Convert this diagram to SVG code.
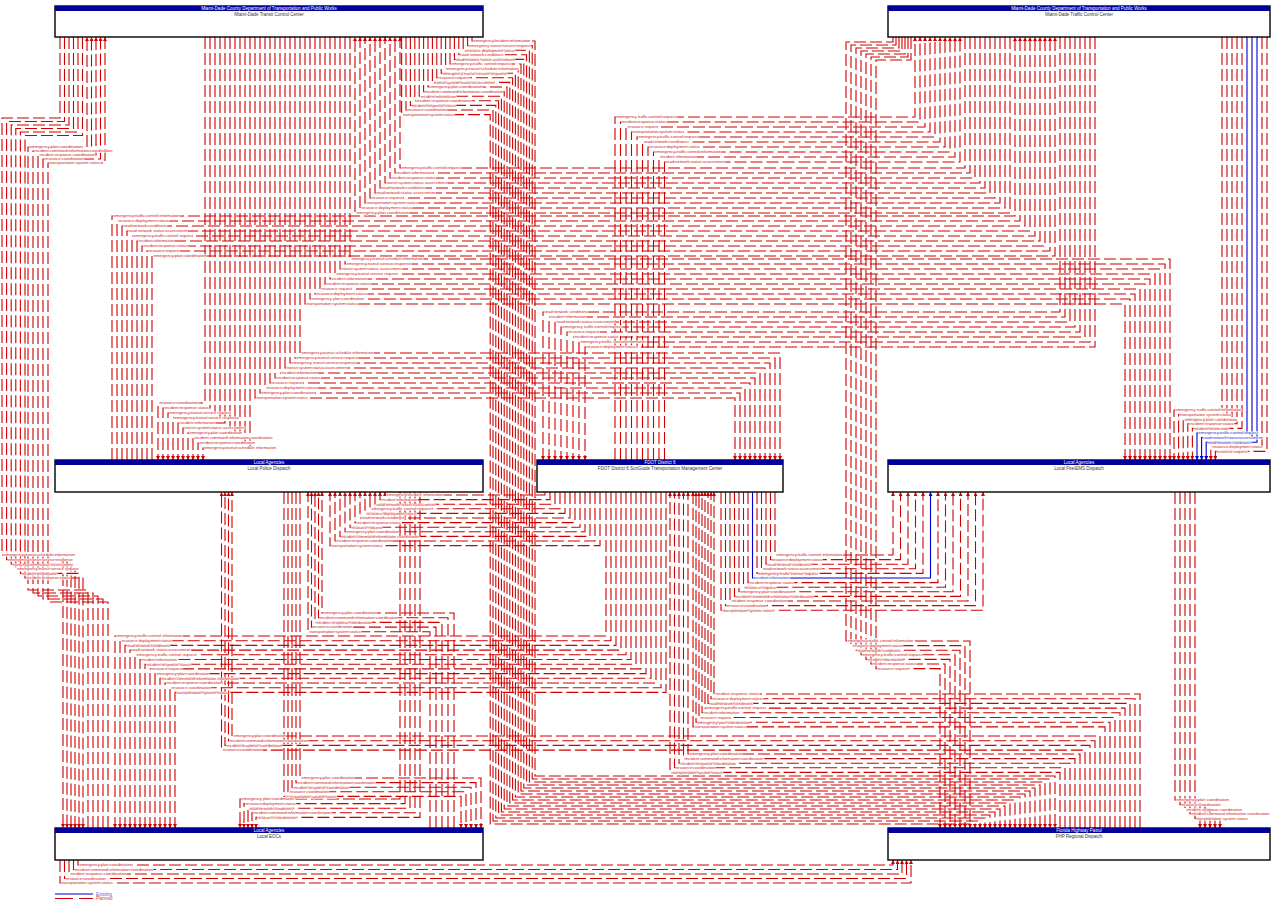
<svg xmlns="http://www.w3.org/2000/svg" width="1277" height="906" viewBox="0 0 1277 906">
<style>
.f{fill:none;stroke:#d00000;stroke-width:1.1;stroke-dasharray:12 4;marker-end:url(#ar)}
.x{fill:none;stroke:#0000d0;stroke-width:1.1;marker-end:url(#ab)}
.t{font-family:"Liberation Sans",Arial,sans-serif;font-size:4.1px;fill:#cc2020;stroke:#fff;stroke-width:1.2px;paint-order:stroke;stroke-linejoin:round}
.tb{fill:#3030cc}
.nb{fill:#fff;stroke:#000;stroke-width:1.4}
.nh{fill:#000099}
.ht{font-family:"Liberation Sans",Arial,sans-serif;font-size:4.5px;fill:#fff;text-anchor:middle}
.st{font-family:"Liberation Sans",Arial,sans-serif;font-size:4.5px;fill:#333;text-anchor:middle}
.lg{font-family:"Liberation Sans",Arial,sans-serif;font-size:4.5px}
</style>
<defs>
<marker id="ar" markerWidth="4" markerHeight="4" refX="4" refY="2" orient="auto" markerUnits="userSpaceOnUse"><path d="M0,0L4,2L0,4z" fill="#d00000"/></marker>
<marker id="ab" markerWidth="4" markerHeight="4" refX="4" refY="2" orient="auto" markerUnits="userSpaceOnUse"><path d="M0,0L4,2L0,4z" fill="#0000d0"/></marker>
</defs>
<rect width="1277" height="906" fill="#fff"/>
<g id="connectors">
<path class="f" d="M472,37V41H535V776H1055V828"/>
<path class="f" d="M467.6,37V45.6H532.2V779H1050V828"/>
<path class="f" d="M463.2,37V50.2H529.4V782H1045V828"/>
<path class="f" d="M458.8,37V54.8H526.6V785H1040V828"/>
<path class="f" d="M454.4,37V59.4H523.8V788H1035V828"/>
<path class="f" d="M450,37V64H521V791H1030V828"/>
<path class="f" d="M445.6,37V68.6H518.2V794H1025V828"/>
<path class="f" d="M441.2,37V73.2H515.4V797H1020V828"/>
<path class="f" d="M436.8,37V77.8H512.6V800H1015V828"/>
<path class="f" d="M432.4,37V82.4H509.8V803H1010V828"/>
<path class="f" d="M428,37V87H507V806H1005V828"/>
<path class="f" d="M423.6,37V91.6H504.2V809H1000V828"/>
<path class="f" d="M419.2,37V96.2H501.4V812H995V828"/>
<path class="f" d="M414.8,37V100.8H498.6V815H990V828"/>
<path class="f" d="M410.4,37V105.4H495.8V818H985V828"/>
<path class="f" d="M406,37V110H493V821H980V828"/>
<path class="f" d="M401.6,37V114.6H490.2V824H975V828"/>
<path class="f" d="M78,860V865H893V860"/>
<path class="f" d="M73.5,860V869.5H897.5V860"/>
<path class="f" d="M69,860V874H902V860"/>
<path class="f" d="M64.5,860V878.5H906.5V860"/>
<path class="f" d="M60,860V883H911V860"/>
<path class="f" d="M1222,37V410H1174V460"/>
<path class="f" d="M1227,37V414.6H1178.6V460"/>
<path class="f" d="M1232,37V419.2H1183.2V460"/>
<path class="f" d="M1237,37V423.8H1187.8V460"/>
<path class="f" d="M1242,37V428.4H1192.4V460"/>
<path class="x" d="M1247,37V433H1197V460"/>
<path class="x" d="M1252,37V437.6H1201.6V460"/>
<path class="x" d="M1257,37V442.2H1206.2V460"/>
<path class="f" d="M1262,37V446.8H1210.8V460"/>
<path class="f" d="M1267,37V451.4H1215.4V460"/>
<path class="f" d="M615,460V117H915V37"/>
<path class="f" d="M620.5,460V122H920V37"/>
<path class="f" d="M626,460V127H925V37"/>
<path class="f" d="M631.5,460V132H930V37"/>
<path class="f" d="M637,460V137H935V37"/>
<path class="f" d="M642.5,460V142H940V37"/>
<path class="f" d="M648,460V147H945V37"/>
<path class="f" d="M653.5,460V152H950V37"/>
<path class="f" d="M659,460V157H955V37"/>
<path class="f" d="M664.5,460V162H960V37"/>
<path class="f" d="M965,37V168H400V37"/>
<path class="f" d="M970,37V173H395V37"/>
<path class="f" d="M975,37V178H390V37"/>
<path class="f" d="M980,37V183H385V37"/>
<path class="f" d="M985,37V188H380V37"/>
<path class="f" d="M990,37V193H375V37"/>
<path class="f" d="M995,37V198H370V37"/>
<path class="f" d="M1000,37V203H365V37"/>
<path class="f" d="M1005,37V208H360V37"/>
<path class="f" d="M1010,37V213H355V37"/>
<path class="f" d="M112,460V216H1015V37"/>
<path class="f" d="M117,460V221H1020V37"/>
<path class="f" d="M122,460V226H1025V37"/>
<path class="f" d="M127,460V231H1030V37"/>
<path class="f" d="M132,460V236H1035V37"/>
<path class="f" d="M137,460V241H1040V37"/>
<path class="f" d="M142,460V246H1045V37"/>
<path class="f" d="M147,460V251H1050V37"/>
<path class="f" d="M152,460V256H1055V37"/>
<path class="f" d="M350,37V259H1170V460"/>
<path class="f" d="M345,37V264H1165V460"/>
<path class="f" d="M340,37V269H1160V460"/>
<path class="f" d="M335,37V274H1155V460"/>
<path class="f" d="M330,37V279H1150V460"/>
<path class="f" d="M325,37V284H1145V460"/>
<path class="f" d="M320,37V289H1140V460"/>
<path class="f" d="M315,37V294H1135V460"/>
<path class="f" d="M310,37V299H1130V460"/>
<path class="f" d="M305,37V304H1125V460"/>
<path class="f" d="M1060,37V312H543V460"/>
<path class="f" d="M1065,37V317H549V460"/>
<path class="f" d="M1070,37V322H555V460"/>
<path class="f" d="M1075,37V327H561V460"/>
<path class="f" d="M1080,37V332H567V460"/>
<path class="f" d="M1085,37V337H573V460"/>
<path class="f" d="M1090,37V342H579V460"/>
<path class="f" d="M1095,37V347H585V460"/>
<path class="f" d="M300,37V353H780V460"/>
<path class="f" d="M295,37V358H775V460"/>
<path class="f" d="M290,37V363H770V460"/>
<path class="f" d="M285,37V368H765V460"/>
<path class="f" d="M280,37V373H760V460"/>
<path class="f" d="M275,37V378H755V460"/>
<path class="f" d="M270,37V383H750V460"/>
<path class="f" d="M265,37V388H745V460"/>
<path class="f" d="M260,37V393H740V460"/>
<path class="f" d="M255,37V398H735V460"/>
<path class="f" d="M205,37V403H158V460"/>
<path class="f" d="M210,37V408H163V460"/>
<path class="f" d="M215,37V413H168V460"/>
<path class="f" d="M220,37V418H173V460"/>
<path class="f" d="M225,37V423H178V460"/>
<path class="f" d="M230,37V428H183V460"/>
<path class="f" d="M235,37V433H188V460"/>
<path class="f" d="M240,37V438H193V460"/>
<path class="f" d="M245,37V443H198V460"/>
<path class="f" d="M250,37V448H203V460"/>
<path class="f" d="M545,492V495H385V492"/>
<path class="f" d="M550,492V499.6H380V492"/>
<path class="f" d="M555,492V504.2H375V492"/>
<path class="f" d="M560,492V508.8H370V492"/>
<path class="f" d="M565,492V513.4H365V492"/>
<path class="f" d="M570,492V518H360V492"/>
<path class="f" d="M575,492V522.6H355V492"/>
<path class="f" d="M580,492V527.2H350V492"/>
<path class="f" d="M585,492V531.8H345V492"/>
<path class="f" d="M590,492V536.4H340V492"/>
<path class="f" d="M595,492V541H335V492"/>
<path class="f" d="M600,492V545.6H330V492"/>
<path class="f" d="M60,37V118H2V555H63V828"/>
<path class="f" d="M64.5,37V121.5H6.6V559.6H67V828"/>
<path class="f" d="M69,37V125H11.2V564.2H71V828"/>
<path class="f" d="M73.5,37V128.5H15.8V568.8H75V828"/>
<path class="f" d="M78,37V132H20.4V573.4H79V828"/>
<path class="f" d="M82.5,37V135.5H25V578H83V828"/>
<path class="f" d="M88,828V590H28V147H87V37"/>
<path class="f" d="M93,828V593H33V151H91.5V37"/>
<path class="f" d="M98,828V596H38V155H96V37"/>
<path class="f" d="M103,828V599H43V159H100.5V37"/>
<path class="f" d="M108,828V602H48V163H105V37"/>
<path class="f" d="M775,492V555H893V492"/>
<path class="f" d="M770.5,492V559.6H900.5V492"/>
<path class="f" d="M766,492V564.2H908V492"/>
<path class="f" d="M761.5,492V568.8H915.5V492"/>
<path class="f" d="M757,492V573.4H923V492"/>
<path class="x" d="M752.5,492V578H930.5V492"/>
<path class="f" d="M748,492V582.6H938V492"/>
<path class="f" d="M743.5,492V587.2H945.5V492"/>
<path class="f" d="M739,492V591.8H953V492"/>
<path class="f" d="M734.5,492V596.4H960.5V492"/>
<path class="f" d="M730,492V601H968V492"/>
<path class="f" d="M725.5,492V605.6H975.5V492"/>
<path class="f" d="M721,492V610.2H983V492"/>
<path class="f" d="M893,37V42H846V641H970V828"/>
<path class="f" d="M896,37V45H851V645.6H965V828"/>
<path class="f" d="M899,37V48H856V650.2H960V828"/>
<path class="f" d="M902,37V51H861V654.8H955V828"/>
<path class="f" d="M905,37V54H866V659.4H950V828"/>
<path class="f" d="M908,37V57H871V664H945V828"/>
<path class="f" d="M911,37V60H876V668.6H940V828"/>
<path class="f" d="M454,828V613H322V492"/>
<path class="f" d="M448,828V617.7H318.5V492"/>
<path class="f" d="M442,828V622.4H315V492"/>
<path class="f" d="M436,828V627.1H311.5V492"/>
<path class="f" d="M430,828V631.8H308V492"/>
<path class="f" d="M606,492V636H115V828"/>
<path class="f" d="M611,492V640.7H120V828"/>
<path class="f" d="M616,492V645.4H125V828"/>
<path class="f" d="M621,492V650.1H130V828"/>
<path class="f" d="M626,492V654.8H135V828"/>
<path class="f" d="M631,492V659.5H140V828"/>
<path class="f" d="M636,492V664.2H145V828"/>
<path class="f" d="M641,492V668.9H150V828"/>
<path class="f" d="M646,492V673.6H155V828"/>
<path class="f" d="M651,492V678.3H160V828"/>
<path class="f" d="M656,492V683H165V828"/>
<path class="f" d="M661,492V687.7H170V828"/>
<path class="f" d="M666,492V692.4H175V828"/>
<path class="f" d="M1140,828V694H714V492"/>
<path class="f" d="M1135,828V698.7H711V492"/>
<path class="f" d="M1130,828V703.4H708V492"/>
<path class="f" d="M1125,828V708.1H705V492"/>
<path class="f" d="M1120,828V712.8H702V492"/>
<path class="f" d="M1115,828V717.5H699V492"/>
<path class="f" d="M1110,828V722.2H696V492"/>
<path class="f" d="M1105,828V726.9H693V492"/>
<path class="f" d="M1100,828V736H232V492"/>
<path class="f" d="M1095,828V740.7H228.5V492"/>
<path class="f" d="M1090,828V745.4H225V492"/>
<path class="f" d="M1085,828V750.1H221.5V492"/>
<path class="f" d="M1080,828V754H688V492"/>
<path class="f" d="M1075,828V758.6H683.5V492"/>
<path class="f" d="M1070,828V763.2H679V492"/>
<path class="f" d="M1065,828V767.8H674.5V492"/>
<path class="f" d="M1060,828V772.4H670V492"/>
<path class="f" d="M300,492V778H481V828"/>
<path class="f" d="M296,492V782.6H476V828"/>
<path class="f" d="M292,492V787.2H471V828"/>
<path class="f" d="M288,492V791.8H466V828"/>
<path class="f" d="M284,492V796.4H461V828"/>
<path class="f" d="M400,492V799H240V828"/>
<path class="f" d="M405,492V803.6H244V828"/>
<path class="f" d="M410,492V808.2H248V828"/>
<path class="f" d="M415,492V812.8H252V828"/>
<path class="f" d="M420,492V817.4H256V828"/>
<path class="f" d="M1175,492V800H1200V828"/>
<path class="f" d="M1180,492V804.6H1205V828"/>
<path class="f" d="M1185,492V809.2H1210V828"/>
<path class="f" d="M1190,492V813.8H1215V828"/>
<path class="f" d="M1195,492V818.4H1220V828"/>
</g>
<g id="labels">
<text class="t" x="473.5" y="42.3">emergency/incident information</text>
<text class="t" x="469.1" y="46.9">emergency transit service request</text>
<text class="t" x="464.7" y="51.5">resource deployment status</text>
<text class="t" x="460.3" y="56.1">road network conditions</text>
<text class="t" x="455.9" y="60.7">road network status assessment</text>
<text class="t" x="451.5" y="65.3">emergency traffic control request</text>
<text class="t" x="447.1" y="69.9">emergency transit schedule information</text>
<text class="t" x="442.7" y="74.5">emergency transit service response</text>
<text class="t" x="438.3" y="79.1">resource request</text>
<text class="t" x="433.9" y="83.7">transit system status assessment</text>
<text class="t" x="429.5" y="88.3">emergency plan coordination</text>
<text class="t" x="425.1" y="92.9">incident command information coordination</text>
<text class="t" x="420.7" y="97.5">incident information</text>
<text class="t" x="416.3" y="102.1">incident response coordination</text>
<text class="t" x="411.9" y="106.7">incident response status</text>
<text class="t" x="407.5" y="111.3">resource coordination</text>
<text class="t" x="403.1" y="115.9">transportation system status</text>
<text class="t" x="79.5" y="866.3">emergency plan coordination</text>
<text class="t" x="75" y="870.8">incident command information coordination</text>
<text class="t" x="70.5" y="875.3">incident response coordination</text>
<text class="t" x="66" y="879.8">resource coordination</text>
<text class="t" x="61.5" y="884.3">transportation system status</text>
<text class="t" x="1175.5" y="411.3">emergency traffic control information</text>
<text class="t" x="1180.1" y="415.9">transportation system status</text>
<text class="t" x="1184.7" y="420.5">emergency plan coordination</text>
<text class="t" x="1189.3" y="425.1">incident response status</text>
<text class="t" x="1193.9" y="429.7">incident information</text>
<text class="t tb" x="1198.5" y="434.3">emergency traffic control request</text>
<text class="t tb" x="1203.1" y="438.9">road network status assessment</text>
<text class="t tb" x="1207.7" y="443.5">road network conditions</text>
<text class="t" x="1212.3" y="448.1">resource deployment status</text>
<text class="t" x="1216.9" y="452.7">resource request</text>
<text class="t" x="616.5" y="118.3">emergency traffic control request</text>
<text class="t" x="622" y="123.3">incident response status</text>
<text class="t" x="627.5" y="128.3">resource request</text>
<text class="t" x="633" y="133.3">transportation system status</text>
<text class="t" x="638.5" y="138.3">emergency traffic control request</text>
<text class="t" x="644" y="143.3">road network conditions</text>
<text class="t" x="649.5" y="148.3">resource deployment status</text>
<text class="t" x="655" y="153.3">emergency traffic control information</text>
<text class="t" x="660.5" y="158.3">incident information</text>
<text class="t" x="666" y="163.3">road network status assessment</text>
<text class="t" x="401.5" y="169.3">emergency traffic control request</text>
<text class="t" x="396.5" y="174.3">incident information</text>
<text class="t" x="391.5" y="179.3">incident response status</text>
<text class="t" x="386.5" y="184.3">transit system status assessment</text>
<text class="t" x="381.5" y="189.3">road network conditions</text>
<text class="t" x="376.5" y="194.3">road network status assessment</text>
<text class="t" x="371.5" y="199.3">resource request</text>
<text class="t" x="366.5" y="204.3">transportation system status</text>
<text class="t" x="361.5" y="209.3">resource deployment status</text>
<text class="t" x="356.5" y="214.3">emergency plan coordination</text>
<text class="t" x="113.5" y="217.3">emergency traffic control information</text>
<text class="t" x="118.5" y="222.3">resource deployment status</text>
<text class="t" x="123.5" y="227.3">road network conditions</text>
<text class="t" x="128.5" y="232.3">road network status assessment</text>
<text class="t" x="133.5" y="237.3">emergency traffic control request</text>
<text class="t" x="138.5" y="242.3">incident information</text>
<text class="t" x="143.5" y="247.3">incident response status</text>
<text class="t" x="148.5" y="252.3">resource request</text>
<text class="t" x="153.5" y="257.3">emergency plan coordination</text>
<text class="t" x="351.5" y="260.3">emergency transit schedule information</text>
<text class="t" x="346.5" y="265.3">emergency transit service response</text>
<text class="t" x="341.5" y="270.3">transit system status assessment</text>
<text class="t" x="336.5" y="275.3">emergency transit service request</text>
<text class="t" x="331.5" y="280.3">incident information</text>
<text class="t" x="326.5" y="285.3">incident response status</text>
<text class="t" x="321.5" y="290.3">resource request</text>
<text class="t" x="316.5" y="295.3">resource deployment status</text>
<text class="t" x="311.5" y="300.3">emergency plan coordination</text>
<text class="t" x="306.5" y="305.3">transportation system status</text>
<text class="t" x="544.5" y="313.3">road network conditions</text>
<text class="t" x="550.5" y="318.3">incident information</text>
<text class="t" x="556.5" y="323.3">road network status assessment</text>
<text class="t" x="562.5" y="328.3">emergency traffic control request</text>
<text class="t" x="568.5" y="333.3">resource request</text>
<text class="t" x="574.5" y="338.3">incident response status</text>
<text class="t" x="580.5" y="343.3">emergency traffic control information</text>
<text class="t" x="586.5" y="348.3">resource deployment status</text>
<text class="t" x="301.5" y="354.3">emergency transit schedule information</text>
<text class="t" x="296.5" y="359.3">emergency transit service request</text>
<text class="t" x="291.5" y="364.3">emergency transit service response</text>
<text class="t" x="286.5" y="369.3">transit system status assessment</text>
<text class="t" x="281.5" y="374.3">incident information</text>
<text class="t" x="276.5" y="379.3">incident response status</text>
<text class="t" x="271.5" y="384.3">resource request</text>
<text class="t" x="266.5" y="389.3">resource deployment status</text>
<text class="t" x="261.5" y="394.3">emergency plan coordination</text>
<text class="t" x="256.5" y="399.3">transportation system status</text>
<text class="t" x="159.5" y="404.3">resource coordination</text>
<text class="t" x="164.5" y="409.3">incident response status</text>
<text class="t" x="169.5" y="414.3">emergency transit service request</text>
<text class="t" x="174.5" y="419.3">emergency transit service response</text>
<text class="t" x="179.5" y="424.3">incident information</text>
<text class="t" x="184.5" y="429.3">transit system status assessment</text>
<text class="t" x="189.5" y="434.3">emergency plan coordination</text>
<text class="t" x="194.5" y="439.3">incident command information coordination</text>
<text class="t" x="199.5" y="444.3">incident response coordination</text>
<text class="t" x="204.5" y="449.3">emergency transit schedule information</text>
<text class="t" x="386.5" y="496.3">emergency/incident information</text>
<text class="t" x="381.5" y="500.9">incident information</text>
<text class="t" x="376.5" y="505.5">road network status assessment</text>
<text class="t" x="371.5" y="510.1">emergency traffic control request</text>
<text class="t" x="366.5" y="514.7">resource deployment status</text>
<text class="t" x="361.5" y="519.3">road network conditions</text>
<text class="t" x="356.5" y="523.9">incident response status</text>
<text class="t" x="351.5" y="528.5">resource request</text>
<text class="t" x="346.5" y="533.1">emergency plan coordination</text>
<text class="t" x="341.5" y="537.7">incident command information coordination</text>
<text class="t" x="336.5" y="542.3">incident response coordination</text>
<text class="t" x="331.5" y="546.9">transportation system status</text>
<text class="t" x="3.5" y="556.3">emergency transit schedule information</text>
<text class="t" x="8.1" y="560.9">emergency transit service response</text>
<text class="t" x="12.7" y="565.5">transit system status assessment</text>
<text class="t" x="17.3" y="570.1">emergency transit service request</text>
<text class="t" x="21.9" y="574.7">incident information</text>
<text class="t" x="26.5" y="579.3">incident response status</text>
<text class="t" x="29.5" y="148.3">emergency plan coordination</text>
<text class="t" x="34.5" y="152.3">incident command information coordination</text>
<text class="t" x="39.5" y="156.3">incident response coordination</text>
<text class="t" x="44.5" y="160.3">resource coordination</text>
<text class="t" x="49.5" y="164.3">transportation system status</text>
<text class="t" x="776.5" y="556.3">emergency traffic control information</text>
<text class="t" x="772" y="560.9">resource deployment status</text>
<text class="t" x="767.5" y="565.5">road network conditions</text>
<text class="t" x="763" y="570.1">road network status assessment</text>
<text class="t" x="758.5" y="574.7">emergency traffic control request</text>
<text class="t tb" x="754" y="579.3">incident information</text>
<text class="t" x="749.5" y="583.9">incident response status</text>
<text class="t" x="745" y="588.5">resource request</text>
<text class="t" x="740.5" y="593.1">emergency plan coordination</text>
<text class="t" x="736" y="597.7">incident command information coordination</text>
<text class="t" x="731.5" y="602.3">incident response coordination</text>
<text class="t" x="727" y="606.9">resource coordination</text>
<text class="t" x="722.5" y="611.5">transportation system status</text>
<text class="t" x="847.5" y="642.3">emergency traffic control information</text>
<text class="t" x="852.5" y="646.9">resource deployment status</text>
<text class="t" x="857.5" y="651.5">road network conditions</text>
<text class="t" x="862.5" y="656.1">emergency traffic control request</text>
<text class="t" x="867.5" y="660.7">incident information</text>
<text class="t" x="872.5" y="665.3">incident response status</text>
<text class="t" x="877.5" y="669.9">resource request</text>
<text class="t" x="323.5" y="614.3">emergency plan coordination</text>
<text class="t" x="320" y="619">incident command information coordination</text>
<text class="t" x="316.5" y="623.7">incident response coordination</text>
<text class="t" x="313" y="628.4">resource coordination</text>
<text class="t" x="309.5" y="633.1">transportation system status</text>
<text class="t" x="116.5" y="637.3">emergency traffic control information</text>
<text class="t" x="121.5" y="642">resource deployment status</text>
<text class="t" x="126.5" y="646.7">road network conditions</text>
<text class="t" x="131.5" y="651.4">road network status assessment</text>
<text class="t" x="136.5" y="656.1">emergency traffic control request</text>
<text class="t" x="141.5" y="660.8">incident information</text>
<text class="t" x="146.5" y="665.5">incident response status</text>
<text class="t" x="151.5" y="670.2">resource request</text>
<text class="t" x="156.5" y="674.9">emergency plan coordination</text>
<text class="t" x="161.5" y="679.6">incident command information coordination</text>
<text class="t" x="166.5" y="684.3">incident response coordination</text>
<text class="t" x="171.5" y="689">resource coordination</text>
<text class="t" x="176.5" y="693.7">transportation system status</text>
<text class="t" x="715.5" y="695.3">incident response status</text>
<text class="t" x="712.5" y="700">resource deployment status</text>
<text class="t" x="709.5" y="704.7">road network conditions</text>
<text class="t" x="706.5" y="709.4">emergency traffic control request</text>
<text class="t" x="703.5" y="714.1">incident information</text>
<text class="t" x="700.5" y="718.8">resource request</text>
<text class="t" x="697.5" y="723.5">emergency plan coordination</text>
<text class="t" x="694.5" y="728.2">transportation system status</text>
<text class="t" x="233.5" y="737.3">emergency plan coordination</text>
<text class="t" x="230" y="742">incident command information coordination</text>
<text class="t" x="226.5" y="746.7">incident response coordination</text>
<text class="t" x="223" y="751.4">resource coordination</text>
<text class="t" x="689.5" y="755.3">emergency plan coordination</text>
<text class="t" x="685" y="759.9">incident command information coordination</text>
<text class="t" x="680.5" y="764.5">incident response coordination</text>
<text class="t" x="676" y="769.1">resource coordination</text>
<text class="t" x="671.5" y="773.7">transportation system status</text>
<text class="t" x="301.5" y="779.3">emergency plan coordination</text>
<text class="t" x="297.5" y="783.9">incident command information coordination</text>
<text class="t" x="293.5" y="788.5">incident response coordination</text>
<text class="t" x="289.5" y="793.1">resource coordination</text>
<text class="t" x="285.5" y="797.7">transportation system status</text>
<text class="t" x="241.5" y="800.3">emergency plan coordination</text>
<text class="t" x="245.5" y="804.9">resource deployment status</text>
<text class="t" x="249.5" y="809.5">road network conditions</text>
<text class="t" x="253.5" y="814.1">incident command information coordination</text>
<text class="t" x="257.5" y="818.7">resource coordination</text>
<text class="t" x="1176.5" y="801.3">emergency plan coordination</text>
<text class="t" x="1181.5" y="805.9">resource coordination</text>
<text class="t" x="1186.5" y="810.5">incident response coordination</text>
<text class="t" x="1191.5" y="815.1">incident command information coordination</text>
<text class="t" x="1196.5" y="819.7">transportation system status</text>
</g>
<g id="node-transit">
<rect class="nb" x="55" y="6" width="428" height="31"/>
<rect class="nh" x="55" y="6" width="428" height="5"/>
<text class="ht" x="269" y="10.2">Miami-Dade County Department of Transportation and Public Works</text>
<text class="st" x="269" y="15.6">Miami-Dade Transit Control Center</text>
</g>
<g id="node-traffic">
<rect class="nb" x="888" y="6" width="382" height="31"/>
<rect class="nh" x="888" y="6" width="382" height="5"/>
<text class="ht" x="1079" y="10.2">Miami-Dade County Department of Transportation and Public Works</text>
<text class="st" x="1079" y="15.6">Miami-Dade Traffic Control Center</text>
</g>
<g id="node-police">
<rect class="nb" x="55" y="460" width="428" height="32"/>
<rect class="nh" x="55" y="460" width="428" height="5"/>
<text class="ht" x="269" y="464.2">Local Agencies</text>
<text class="st" x="269" y="469.6">Local Police Dispatch</text>
</g>
<g id="node-fdot">
<rect class="nb" x="537" y="460" width="246" height="32"/>
<rect class="nh" x="537" y="460" width="246" height="5"/>
<text class="ht" x="660" y="464.2">FDOT District 6</text>
<text class="st" x="660" y="469.6">FDOT District 6 SunGuide Transportation Management Center</text>
</g>
<g id="node-fire">
<rect class="nb" x="888" y="460" width="382" height="32"/>
<rect class="nh" x="888" y="460" width="382" height="5"/>
<text class="ht" x="1079" y="464.2">Local Agencies</text>
<text class="st" x="1079" y="469.6">Local Fire/EMS Dispatch</text>
</g>
<g id="node-eoc">
<rect class="nb" x="55" y="828" width="428" height="32"/>
<rect class="nh" x="55" y="828" width="428" height="5"/>
<text class="ht" x="269" y="832.2">Local Agencies</text>
<text class="st" x="269" y="837.6">Local EOCs</text>
</g>
<g id="node-fhp">
<rect class="nb" x="888" y="828" width="382" height="32"/>
<rect class="nh" x="888" y="828" width="382" height="5"/>
<text class="ht" x="1079" y="832.2">Florida Highway Patrol</text>
<text class="st" x="1079" y="837.6">FHP Regional Dispatch</text>
</g>
<g id="legend">
<line x1="55" y1="894" x2="93" y2="894" stroke="#0000d0" stroke-width="1.1"/>
<text class="lg" x="96" y="895.6" fill="#6060d0">Existing</text>
<line x1="55" y1="898.5" x2="93" y2="898.5" stroke="#d00000" stroke-width="1.1" stroke-dasharray="18 6"/>
<text class="lg" x="96" y="900.1" fill="#d04040">Planned</text>
</g>
</svg>
